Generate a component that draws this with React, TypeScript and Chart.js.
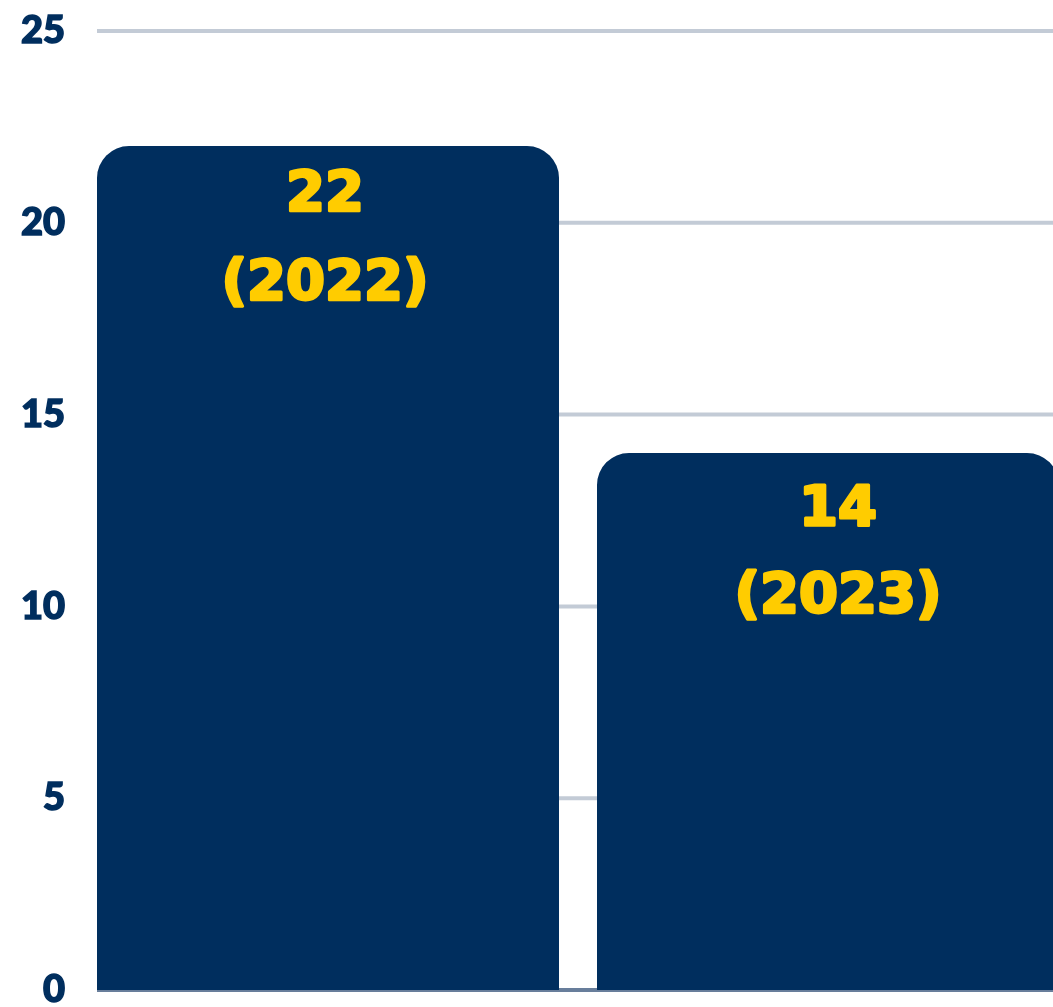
import React, { useEffect, useRef } from "react";
import { Chart, registerables } from "chart.js";

Chart.register(...registerables);

const categories = ["2022", "2023"];
const values = [22, 14];
const barLabels = [
  ["22", "(2022)"],
  ["14", "(2023)"],
];
const yTicks = [0, 5, 10, 15, 20, 25];

const NAVY = "#002e5e";
const YELLOW = "#ffcc00";
const GRID = "#c3cbd6";
const AXIS = "#687e9b";

const gridPlugin = {
  id: "customGrid",
  beforeDatasetsDraw(chart: any) {
    const { ctx } = chart;
    const y = chart.scales.y;
    ctx.save();
    ctx.lineWidth = 4;
    yTicks.forEach((t) => {
      const py = y.getPixelForValue(t);
      ctx.strokeStyle = t === 0 ? AXIS : GRID;
      ctx.beginPath();
      ctx.moveTo(97, py);
      ctx.lineTo(chart.width, py);
      ctx.stroke();
    });
    ctx.restore();
  },
};

const labelPlugin = {
  id: "barLabels",
  afterDatasetsDraw(chart: any) {
    const { ctx } = chart;
    const meta = chart.getDatasetMeta(0);
    const dx = [-3, 10];
    const dy1 = [49, 57];
    const dy2 = [138, 144];
    ctx.save();
    ctx.fillStyle = YELLOW;
    ctx.strokeStyle = YELLOW;
    ctx.lineWidth = 3;
    ctx.lineJoin = "round";
    ctx.font = "bold 56px 'DejaVu Sans'";
    ctx.textAlign = "center";
    ctx.textBaseline = "middle";
    meta.data.forEach((bar: any, i: number) => {
      const lines = barLabels[i];
      const x = bar.x + dx[i];
      ctx.fillText(lines[0], x, bar.y + dy1[i]);
      ctx.strokeText(lines[0], x, bar.y + dy1[i]);
      ctx.fillText(lines[1], x, bar.y + dy2[i]);
      ctx.strokeText(lines[1], x, bar.y + dy2[i]);
    });
    ctx.restore();
  },
};

export default function App() {
  const ref = useRef<HTMLCanvasElement>(null);
  useEffect(() => {
    if (!ref.current) return;
    const chart = new Chart(ref.current, {
      type: "bar",
      data: {
        labels: categories,
        datasets: [
          {
            data: values,
            backgroundColor: NAVY,
            borderRadius: 32,
            borderSkipped: "bottom",
            barPercentage: 0.924,
            categoryPercentage: 1,
          },
        ],
      },
      options: {
        responsive: false,
        animation: false,
        layout: { padding: { top: 31, bottom: 50, left: 0, right: 22 } },
        plugins: { legend: { display: false }, tooltip: { enabled: false } },
        scales: {
          x: {
            offset: true,
            grid: { display: false, drawTicks: false },
            ticks: { display: false },
            border: { display: false },
            afterFit: (s: any) => {
              s.height = 0;
            },
          },
          y: {
            min: 0,
            max: 25,
            afterBuildTicks: (s: any) => {
              s.ticks = yTicks.map((v) => ({ value: v }));
            },
            grid: { display: false, drawTicks: false },
            border: { display: false },
            ticks: {
              color: NAVY,
              padding: 13,
              textStrokeColor: NAVY,
              textStrokeWidth: 1.5,
              font: { family: "Lato", weight: 900, size: 38 },
            },
            afterFit: (s: any) => {
              s.width = 78;
              s.paddingTop = 0;
              s.paddingBottom = 0;
            },
          },
        },
      },
      plugins: [gridPlugin, labelPlugin],
    });
    return () => chart.destroy();
  }, []);
  return (
    <div style={{ position: "fixed", left: 0, top: 0, width: 1100, height: 1040 }}>
      <canvas ref={ref} width={1100} height={1040} />
    </div>
  );
}
